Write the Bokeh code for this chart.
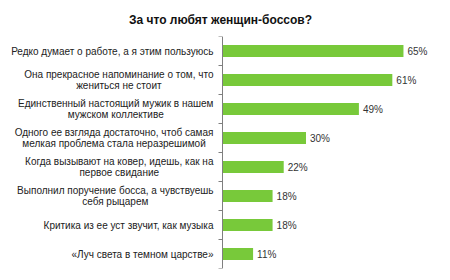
from bokeh.plotting import figure
from bokeh.models import Range1d, FixedTicker, ColumnDataSource
from bokeh.core.properties import value
from bokeh.embed import file_html
from bokeh.resources import INLINE

title = "За что любят женщин-боссов?"
categories = [
    "Редко думает о работе, а я этим пользуюсь",
    "Она прекрасное напоминание о том, что\nжениться не стоит",
    "Единственный настоящий мужик в нашем\nмужском коллективе",
    "Одного ее взгляда достаточно, чтоб самая\nмелкая проблема стала неразрешимой",
    "Когда вызывают на ковер, идешь, как на\nпервое свидание",
    "Выполнил поручение босса, а чувствуешь\nсебя рыцарем",
    "Критика из ее уст звучит, как музыка",
    "«Луч света в темном царстве»",
]
values = [65, 61, 49, 30, 22, 18, 18, 11]
value_labels = ["65%", "61%", "49%", "30%", "22%", "18%", "18%", "11%"]

n = len(categories)
ypos = [n - i - 0.5 for i in range(n)]
src = ColumnDataSource(dict(y=ypos, v=values, zero=[0] * n, cat=categories, lab=value_labels))

p = figure(width=450, height=280, output_backend="svg", toolbar_location=None,
           x_range=Range1d(-79.7, 78.3), y_range=Range1d(0, n),
           min_border_left=0, min_border_right=10, min_border_top=34, min_border_bottom=12)
p.outline_line_color = None
p.xgrid.visible = False
p.ygrid.visible = False
p.xaxis.visible = False

p.title.text = title
p.title.align = "center"
p.title.text_font = "Liberation Sans"
p.title.text_font_size = "12px"
p.title.text_font_style = "bold"
p.title.text_color = "#111111"
p.title.offset = 0
p.title.standoff = 20

ya = p.yaxis[0]
ya.fixed_location = 0
ticks = list(range(n + 1))
ya.ticker = FixedTicker(ticks=ticks)
ya.major_label_overrides = {t: "" for t in ticks}
ya.major_label_text_font_size = "1px"
ya.major_label_standoff = 0
ya.axis_line_color = "#7f7f7f"
ya.major_tick_line_color = "#7f7f7f"
ya.major_tick_out = 4
ya.major_tick_in = 0
ya.minor_tick_line_color = None

p.hbar(y="y", left="zero", right="v", height=0.42, source=src,
       fill_color="#78C93A", line_color=None)

p.text(x="zero", y="y", text="cat", source=src, x_offset=-9,
       text_align="center", anchor="center_right", text_baseline="middle",
       text_font=value("Liberation Sans"), text_font_size="10px",
       text_color="#222222", text_line_height=1.0)

p.text(x="v", y="y", text="lab", source=src, x_offset=4,
       text_align="left", text_baseline="middle",
       text_font=value("Liberation Sans"), text_font_size="10px",
       text_color="#333333")

open("out.html", "w").write(file_html(p, INLINE))
